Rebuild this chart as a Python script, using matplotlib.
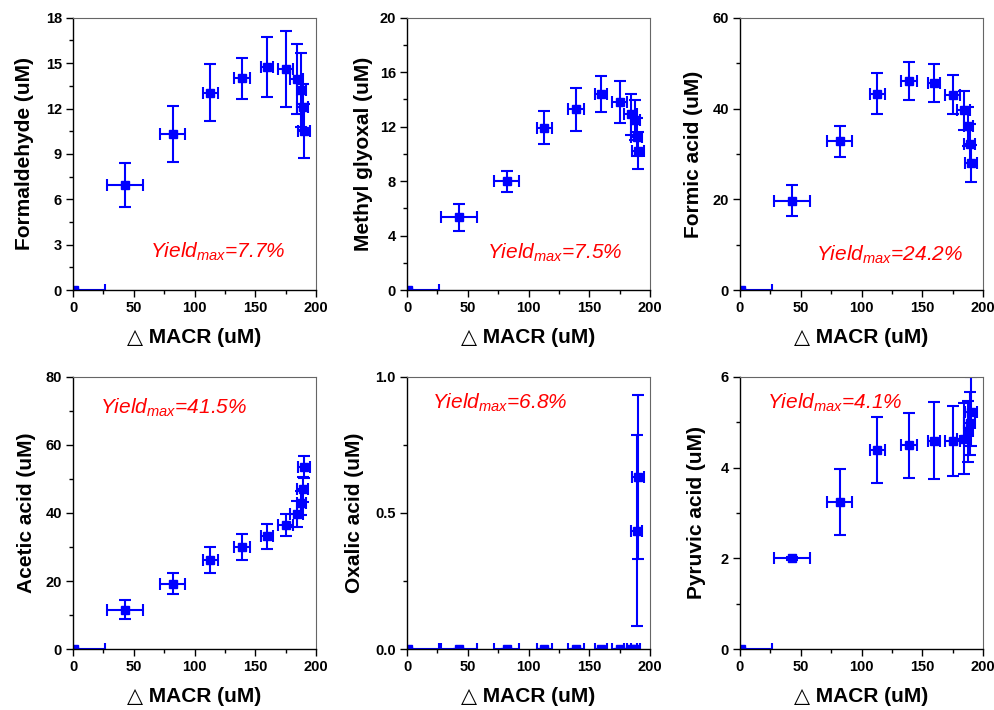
import numpy as np
import matplotlib
matplotlib.use("Agg")
import matplotlib.pyplot as plt
from matplotlib.ticker import MultipleLocator

plt.rcParams['font.family'] = ['Liberation Sans', 'DejaVu Sans']
plt.rcParams['mathtext.fontset'] = 'custom'
plt.rcParams['mathtext.rm'] = 'Liberation Sans'
plt.rcParams['mathtext.it'] = 'Liberation Sans:italic'

# =========================
# データ
# =========================
macr = [1, 43, 82, 113, 139, 160, 175, 184, 188, 189, 190]
macr_err = [25, 15, 10, 6, 6.5, 5, 6, 5, 4, 4.5, 5]

formaldehyde = [0, 6.95, 10.3, 13.05, 14.0, 14.75, 14.6, 13.95, 13.2, 12.1, 10.5]
formaldehyde_err = [0, 1.43, 1.85, 1.9, 1.35, 2.0, 2.5, 2.3, 2.45, 1.55, 1.78]

methyl_glyoxal = [0, 5.34, 7.98, 11.92, 13.27, 14.39, 13.83, 12.9, 12.5, 11.26, 10.23]
methyl_glyoxal_err = [0, 0.98, 0.8, 1.2, 1.57, 1.3, 1.55, 1.5, 1.45, 1.4, 1.35]

formic = [0, 19.7, 32.75, 43.3, 46.05, 45.6, 43.0, 39.6, 36.1, 32.3, 27.9]
formic_err = [0, 3.4, 3.45, 4.45, 4.2, 4.2, 4.3, 4.3, 4.3, 4.2, 4.0]

acetic = [0, 11.6, 19.2, 26.2, 29.95, 33.1, 36.5, 39.7, 43.0, 46.9, 53.6]
acetic_err = [0, 2.75, 3.1, 3.7, 3.9, 3.7, 3.3, 3.8, 3.5, 3.6, 3.25]

oxalic = [0, 0, 0, 0, 0, 0, 0, 0, 0, 0.435, 0.632]
oxalic_err = [0, 0, 0, 0, 0, 0, 0, 0, 0, 0.35, 0.30]

pyruvic = [0, 2.0, 3.24, 4.38, 4.49, 4.59, 4.59, 4.63, 4.8, 4.97, 5.23]
pyruvic_err = [0, 0.03, 0.72, 0.73, 0.71, 0.85, 0.77, 0.78, 0.67, 0.7, 0.76]

ylabels = ["Formaldehyde (uM)", "Methyl glyoxal (uM)", "Formic acid (uM)",
           "Acetic acid (uM)", "Oxalic acid (uM)", "Pyruvic acid (uM)"]
yields = ["7.7", "7.5", "24.2", "41.5", "6.8", "4.1"]
ymax = [18, 20, 60, 80, 1.0, 6]
ymajor = [3, 4, 20, 20, 0.5, 2]

series = [(formaldehyde, formaldehyde_err), (methyl_glyoxal, methyl_glyoxal_err),
          (formic, formic_err), (acetic, acetic_err), (oxalic, oxalic_err),
          (pyruvic, pyruvic_err)]

# =========================
# レイアウト (px)
# =========================
W, H = 994, 710
lefts = [73, 407, 740]
tops = [17.7, 376.7]
aw, ah = 243, 272.5
yield_pos = [(0.317, 0.12), (0.329, 0.117), (0.312, 0.11),
             (0.111, 0.865), (0.102, 0.884), (0.112, 0.884)]
ylab_x = [-0.161, -0.141, -0.154, -0.153, -0.177, -0.140]

fig = plt.figure(figsize=(W / 100, H / 100), dpi=100)

for i in range(6):
    r, c = divmod(i, 3)
    ax = fig.add_axes([lefts[c] / W, 1 - (tops[r] + ah) / H, aw / W, ah / H])
    y, yerr = series[i]
    ax.errorbar(macr, y, xerr=macr_err, yerr=yerr, fmt='s', color='#0000FF',
                ms=5.5, elinewidth=1.5, capsize=4, capthick=1.5)
    ax.set_xlim(0, 200)
    ax.set_ylim(0, ymax[i])
    ax.xaxis.set_major_locator(MultipleLocator(50))
    ax.xaxis.set_minor_locator(MultipleLocator(25))
    ax.yaxis.set_major_locator(MultipleLocator(ymajor[i]))
    ax.yaxis.set_minor_locator(MultipleLocator(ymajor[i] / 2))
    ax.tick_params(which='both', direction='out', top=False, right=False, width=1)
    ax.tick_params(which='major', length=5, labelsize=10.5, pad=3)
    ax.tick_params(which='minor', length=3)
    for lab in ax.get_xticklabels() + ax.get_yticklabels():
        lab.set_fontweight('bold')
    for s in ['top', 'right']:
        ax.spines[s].set_color('#666666')
    for s in ['left', 'bottom']:
        ax.spines[s].set_linewidth(1.0)

    ax.set_xlabel("△ MACR (uM)", fontsize=15, fontweight='bold', labelpad=9)
    ax.set_ylabel(ylabels[i], fontsize=15, fontweight='bold')
    ax.yaxis.set_label_coords(ylab_x[i], 0.5)

    tx, ty = yield_pos[i]
    ax.text(tx, ty, "Yield$_{max}$=" + yields[i] + "%", transform=ax.transAxes,
            color='#FF0000', fontsize=15, style='italic', va='baseline')

fig.savefig("out.png", dpi=100)
